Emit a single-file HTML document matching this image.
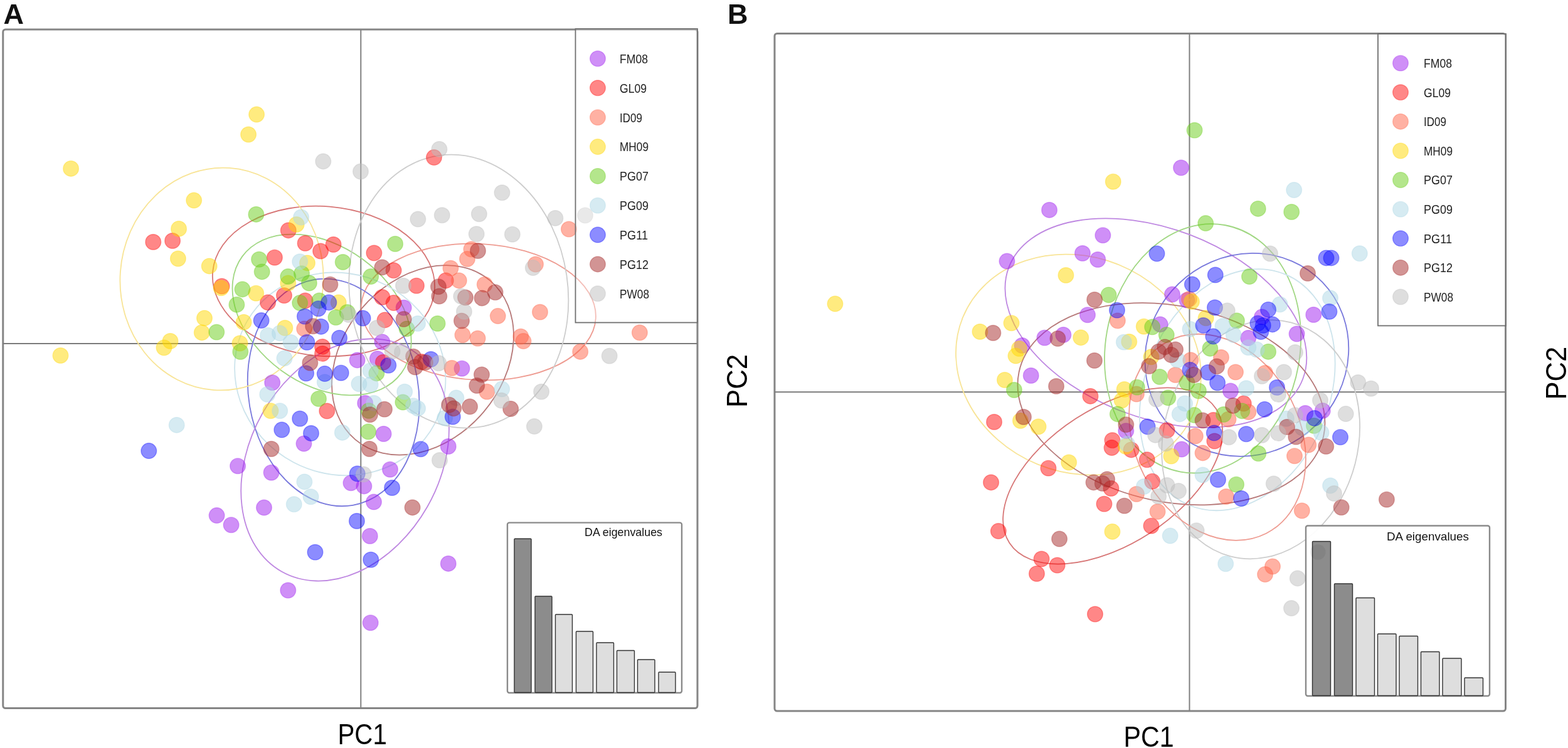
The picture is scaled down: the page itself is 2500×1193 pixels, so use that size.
<!DOCTYPE html>
<html><head><meta charset="utf-8"><style>
html,body{margin:0;padding:0;background:#fff;}
body{width:2500px;height:1193px;overflow:hidden;}
svg{display:block;font-family:"Liberation Sans", Arial, sans-serif;filter:blur(0.5px);}
</style></head><body>
<svg width="2500" height="1193" viewBox="0 0 2500 1193">
<rect width="2500" height="1193" fill="#fff"/>
<text x="5.5" y="38" font-size="45" font-weight="bold" fill="#111">A</text>
<text x="1160" y="37.8" font-size="45" font-weight="bold" fill="#111">B</text>
<rect x="4.8" y="47" width="1107.2" height="1082.5" rx="4" fill="#fff" stroke="#858585" stroke-width="3"/>
<line x1="575.3" y1="47" x2="575.3" y2="1129.5" stroke="#808080" stroke-width="2"/>
<line x1="4.8" y1="548" x2="1112" y2="548" stroke="#7a7a7a" stroke-width="1.9"/>
<ellipse cx="516.0" cy="448.5" rx="177.5" ry="119.3" transform="rotate(-175.2 516.0 448.5)" fill="none" stroke="rgb(215,118,118)" stroke-width="1.8"/>
<ellipse cx="762.9" cy="497.5" rx="187.2" ry="108.6" transform="rotate(-176.9 762.9 497.5)" fill="none" stroke="rgb(238,155,145)" stroke-width="1.8"/>
<ellipse cx="674.0" cy="574.4" rx="127.5" ry="166.2" transform="rotate(-139.7 674.0 574.4)" fill="none" stroke="rgb(182,120,120)" stroke-width="1.8"/>
<ellipse cx="513.1" cy="502.0" rx="109.9" ry="157.3" transform="rotate(126.2 513.1 502.0)" fill="none" stroke="rgb(160,215,130)" stroke-width="1.8"/>
<ellipse cx="542.3" cy="596.4" rx="159.4" ry="170.5" transform="rotate(117.7 542.3 596.4)" fill="none" stroke="rgb(205,228,236)" stroke-width="1.8"/>
<ellipse cx="531.7" cy="625.9" rx="182.5" ry="135.4" transform="rotate(-99.7 531.7 625.9)" fill="none" stroke="rgb(120,120,220)" stroke-width="1.8"/>
<ellipse cx="550.1" cy="733.4" rx="151.1" ry="204.9" transform="rotate(-150.4 550.1 733.4)" fill="none" stroke="rgb(190,135,225)" stroke-width="1.8"/>
<ellipse cx="731.3" cy="464.6" rx="174.0" ry="218.8" transform="rotate(171.7 731.3 464.6)" fill="none" stroke="rgb(205,205,205)" stroke-width="1.8"/>
<ellipse cx="353.5" cy="445.0" rx="177.5" ry="162.0" transform="rotate(-86.0 353.5 445.0)" fill="none" stroke="rgb(248,228,150)" stroke-width="1.8"/>
<circle cx="643.7" cy="490.8" r="12.3" fill="rgba(160,32,240,0.5)" stroke="rgba(160,32,240,0.35)" stroke-width="1.4"/>
<circle cx="609.4" cy="545.4" r="12.3" fill="rgba(160,32,240,0.5)" stroke="rgba(160,32,240,0.35)" stroke-width="1.4"/>
<circle cx="434.2" cy="610.2" r="12.3" fill="rgba(160,32,240,0.5)" stroke="rgba(160,32,240,0.35)" stroke-width="1.4"/>
<circle cx="484.5" cy="707.6" r="12.3" fill="rgba(160,32,240,0.5)" stroke="rgba(160,32,240,0.35)" stroke-width="1.4"/>
<circle cx="379.1" cy="743.2" r="12.3" fill="rgba(160,32,240,0.5)" stroke="rgba(160,32,240,0.35)" stroke-width="1.4"/>
<circle cx="432.6" cy="753.7" r="12.3" fill="rgba(160,32,240,0.5)" stroke="rgba(160,32,240,0.35)" stroke-width="1.4"/>
<circle cx="569.6" cy="574.4" r="12.3" fill="rgba(160,32,240,0.5)" stroke="rgba(160,32,240,0.35)" stroke-width="1.4"/>
<circle cx="601.8" cy="572.3" r="12.3" fill="rgba(160,32,240,0.5)" stroke="rgba(160,32,240,0.35)" stroke-width="1.4"/>
<circle cx="582.2" cy="643.0" r="12.3" fill="rgba(160,32,240,0.5)" stroke="rgba(160,32,240,0.35)" stroke-width="1.4"/>
<circle cx="611.6" cy="692.0" r="12.3" fill="rgba(160,32,240,0.5)" stroke="rgba(160,32,240,0.35)" stroke-width="1.4"/>
<circle cx="736.5" cy="587.7" r="12.3" fill="rgba(160,32,240,0.5)" stroke="rgba(160,32,240,0.35)" stroke-width="1.4"/>
<circle cx="714.8" cy="712.0" r="12.3" fill="rgba(160,32,240,0.5)" stroke="rgba(160,32,240,0.35)" stroke-width="1.4"/>
<circle cx="622.0" cy="748.7" r="12.3" fill="rgba(160,32,240,0.5)" stroke="rgba(160,32,240,0.35)" stroke-width="1.4"/>
<circle cx="596.0" cy="800.6" r="12.3" fill="rgba(160,32,240,0.5)" stroke="rgba(160,32,240,0.35)" stroke-width="1.4"/>
<circle cx="714.8" cy="898.9" r="12.3" fill="rgba(160,32,240,0.5)" stroke="rgba(160,32,240,0.35)" stroke-width="1.4"/>
<circle cx="421.0" cy="809.6" r="12.3" fill="rgba(160,32,240,0.5)" stroke="rgba(160,32,240,0.35)" stroke-width="1.4"/>
<circle cx="345.6" cy="822.1" r="12.3" fill="rgba(160,32,240,0.5)" stroke="rgba(160,32,240,0.35)" stroke-width="1.4"/>
<circle cx="368.6" cy="837.2" r="12.3" fill="rgba(160,32,240,0.5)" stroke="rgba(160,32,240,0.35)" stroke-width="1.4"/>
<circle cx="559.5" cy="770.2" r="12.3" fill="rgba(160,32,240,0.5)" stroke="rgba(160,32,240,0.35)" stroke-width="1.4"/>
<circle cx="580.4" cy="775.4" r="12.3" fill="rgba(160,32,240,0.5)" stroke="rgba(160,32,240,0.35)" stroke-width="1.4"/>
<circle cx="589.8" cy="855.0" r="12.3" fill="rgba(160,32,240,0.5)" stroke="rgba(160,32,240,0.35)" stroke-width="1.4"/>
<circle cx="459.3" cy="941.5" r="12.3" fill="rgba(160,32,240,0.5)" stroke="rgba(160,32,240,0.35)" stroke-width="1.4"/>
<circle cx="590.7" cy="993.2" r="12.3" fill="rgba(160,32,240,0.5)" stroke="rgba(160,32,240,0.35)" stroke-width="1.4"/>
<circle cx="244.3" cy="386.0" r="12.3" fill="rgba(255,0,0,0.47)" stroke="rgba(255,0,0,0.35)" stroke-width="1.4"/>
<circle cx="275.1" cy="384.0" r="12.3" fill="rgba(255,0,0,0.47)" stroke="rgba(255,0,0,0.35)" stroke-width="1.4"/>
<circle cx="353.6" cy="456.5" r="12.3" fill="rgba(255,0,0,0.47)" stroke="rgba(255,0,0,0.35)" stroke-width="1.4"/>
<circle cx="459.8" cy="367.4" r="12.3" fill="rgba(255,0,0,0.47)" stroke="rgba(255,0,0,0.35)" stroke-width="1.4"/>
<circle cx="486.6" cy="388.0" r="12.3" fill="rgba(255,0,0,0.47)" stroke="rgba(255,0,0,0.35)" stroke-width="1.4"/>
<circle cx="531.6" cy="390.0" r="12.3" fill="rgba(255,0,0,0.47)" stroke="rgba(255,0,0,0.35)" stroke-width="1.4"/>
<circle cx="511.1" cy="400.5" r="12.3" fill="rgba(255,0,0,0.47)" stroke="rgba(255,0,0,0.35)" stroke-width="1.4"/>
<circle cx="596.4" cy="403.5" r="12.3" fill="rgba(255,0,0,0.47)" stroke="rgba(255,0,0,0.35)" stroke-width="1.4"/>
<circle cx="692.0" cy="251.1" r="12.3" fill="rgba(255,0,0,0.47)" stroke="rgba(255,0,0,0.35)" stroke-width="1.4"/>
<circle cx="437.9" cy="410.7" r="12.3" fill="rgba(255,0,0,0.47)" stroke="rgba(255,0,0,0.35)" stroke-width="1.4"/>
<circle cx="427.1" cy="482.4" r="12.3" fill="rgba(255,0,0,0.47)" stroke="rgba(255,0,0,0.35)" stroke-width="1.4"/>
<circle cx="453.0" cy="471.2" r="12.3" fill="rgba(255,0,0,0.47)" stroke="rgba(255,0,0,0.35)" stroke-width="1.4"/>
<circle cx="486.6" cy="479.6" r="12.3" fill="rgba(255,0,0,0.47)" stroke="rgba(255,0,0,0.35)" stroke-width="1.4"/>
<circle cx="514.0" cy="553.0" r="12.3" fill="rgba(255,0,0,0.47)" stroke="rgba(255,0,0,0.35)" stroke-width="1.4"/>
<circle cx="514.0" cy="564.0" r="12.3" fill="rgba(255,0,0,0.47)" stroke="rgba(255,0,0,0.35)" stroke-width="1.4"/>
<circle cx="627.6" cy="431.3" r="12.3" fill="rgba(255,0,0,0.47)" stroke="rgba(255,0,0,0.35)" stroke-width="1.4"/>
<circle cx="664.0" cy="455.8" r="12.3" fill="rgba(255,0,0,0.47)" stroke="rgba(255,0,0,0.35)" stroke-width="1.4"/>
<circle cx="609.4" cy="474.0" r="12.3" fill="rgba(255,0,0,0.47)" stroke="rgba(255,0,0,0.35)" stroke-width="1.4"/>
<circle cx="627.6" cy="483.1" r="12.3" fill="rgba(255,0,0,0.47)" stroke="rgba(255,0,0,0.35)" stroke-width="1.4"/>
<circle cx="613.6" cy="510.4" r="12.3" fill="rgba(255,0,0,0.47)" stroke="rgba(255,0,0,0.35)" stroke-width="1.4"/>
<circle cx="710.8" cy="447.4" r="12.3" fill="rgba(255,0,0,0.47)" stroke="rgba(255,0,0,0.35)" stroke-width="1.4"/>
<circle cx="610.9" cy="577.9" r="12.3" fill="rgba(255,0,0,0.47)" stroke="rgba(255,0,0,0.35)" stroke-width="1.4"/>
<circle cx="672.0" cy="577.0" r="12.3" fill="rgba(255,0,0,0.47)" stroke="rgba(255,0,0,0.35)" stroke-width="1.4"/>
<circle cx="521.3" cy="655.6" r="12.3" fill="rgba(255,0,0,0.47)" stroke="rgba(255,0,0,0.35)" stroke-width="1.4"/>
<circle cx="907.0" cy="365.5" r="12.3" fill="rgba(255,99,71,0.5)" stroke="rgba(255,99,71,0.35)" stroke-width="1.4"/>
<circle cx="485.2" cy="524.4" r="12.3" fill="rgba(255,99,71,0.5)" stroke="rgba(255,99,71,0.35)" stroke-width="1.4"/>
<circle cx="718.5" cy="427.8" r="12.3" fill="rgba(255,99,71,0.5)" stroke="rgba(255,99,71,0.35)" stroke-width="1.4"/>
<circle cx="731.8" cy="447.4" r="12.3" fill="rgba(255,99,71,0.5)" stroke="rgba(255,99,71,0.35)" stroke-width="1.4"/>
<circle cx="745.0" cy="413.0" r="12.3" fill="rgba(255,99,71,0.5)" stroke="rgba(255,99,71,0.35)" stroke-width="1.4"/>
<circle cx="737.5" cy="534.2" r="12.3" fill="rgba(255,99,71,0.5)" stroke="rgba(255,99,71,0.35)" stroke-width="1.4"/>
<circle cx="751.5" cy="397.5" r="12.3" fill="rgba(255,99,71,0.5)" stroke="rgba(255,99,71,0.35)" stroke-width="1.4"/>
<circle cx="854.0" cy="421.5" r="12.3" fill="rgba(255,99,71,0.5)" stroke="rgba(255,99,71,0.35)" stroke-width="1.4"/>
<circle cx="772.8" cy="453.7" r="12.3" fill="rgba(255,99,71,0.5)" stroke="rgba(255,99,71,0.35)" stroke-width="1.4"/>
<circle cx="793.8" cy="504.1" r="12.3" fill="rgba(255,99,71,0.5)" stroke="rgba(255,99,71,0.35)" stroke-width="1.4"/>
<circle cx="861.0" cy="497.8" r="12.3" fill="rgba(255,99,71,0.5)" stroke="rgba(255,99,71,0.35)" stroke-width="1.4"/>
<circle cx="761.6" cy="539.8" r="12.3" fill="rgba(255,99,71,0.5)" stroke="rgba(255,99,71,0.35)" stroke-width="1.4"/>
<circle cx="830.3" cy="536.8" r="12.3" fill="rgba(255,99,71,0.5)" stroke="rgba(255,99,71,0.35)" stroke-width="1.4"/>
<circle cx="834.5" cy="544.1" r="12.3" fill="rgba(255,99,71,0.5)" stroke="rgba(255,99,71,0.35)" stroke-width="1.4"/>
<circle cx="925.2" cy="560.9" r="12.3" fill="rgba(255,99,71,0.5)" stroke="rgba(255,99,71,0.35)" stroke-width="1.4"/>
<circle cx="1019.9" cy="530.5" r="12.3" fill="rgba(255,99,71,0.5)" stroke="rgba(255,99,71,0.35)" stroke-width="1.4"/>
<circle cx="720.4" cy="587.0" r="12.3" fill="rgba(255,99,71,0.5)" stroke="rgba(255,99,71,0.35)" stroke-width="1.4"/>
<circle cx="776.4" cy="624.8" r="12.3" fill="rgba(255,99,71,0.5)" stroke="rgba(255,99,71,0.35)" stroke-width="1.4"/>
<circle cx="113.1" cy="268.9" r="12.3" fill="rgba(255,215,0,0.5)" stroke="rgba(255,215,0,0.35)" stroke-width="1.4"/>
<circle cx="309.2" cy="319.6" r="12.3" fill="rgba(255,215,0,0.5)" stroke="rgba(255,215,0,0.35)" stroke-width="1.4"/>
<circle cx="285.1" cy="364.9" r="12.3" fill="rgba(255,215,0,0.5)" stroke="rgba(255,215,0,0.35)" stroke-width="1.4"/>
<circle cx="283.9" cy="412.5" r="12.3" fill="rgba(255,215,0,0.5)" stroke="rgba(255,215,0,0.35)" stroke-width="1.4"/>
<circle cx="333.7" cy="424.4" r="12.3" fill="rgba(255,215,0,0.5)" stroke="rgba(255,215,0,0.35)" stroke-width="1.4"/>
<circle cx="352.6" cy="459.2" r="12.3" fill="rgba(255,215,0,0.5)" stroke="rgba(255,215,0,0.35)" stroke-width="1.4"/>
<circle cx="326.0" cy="507.4" r="12.3" fill="rgba(255,215,0,0.5)" stroke="rgba(255,215,0,0.35)" stroke-width="1.4"/>
<circle cx="321.8" cy="530.4" r="12.3" fill="rgba(255,215,0,0.5)" stroke="rgba(255,215,0,0.35)" stroke-width="1.4"/>
<circle cx="271.5" cy="544.0" r="12.3" fill="rgba(255,215,0,0.5)" stroke="rgba(255,215,0,0.35)" stroke-width="1.4"/>
<circle cx="261.5" cy="554.5" r="12.3" fill="rgba(255,215,0,0.5)" stroke="rgba(255,215,0,0.35)" stroke-width="1.4"/>
<circle cx="96.5" cy="567.0" r="12.3" fill="rgba(255,215,0,0.5)" stroke="rgba(255,215,0,0.35)" stroke-width="1.4"/>
<circle cx="409.1" cy="182.6" r="12.3" fill="rgba(255,215,0,0.5)" stroke="rgba(255,215,0,0.35)" stroke-width="1.4"/>
<circle cx="396.1" cy="214.5" r="12.3" fill="rgba(255,215,0,0.5)" stroke="rgba(255,215,0,0.35)" stroke-width="1.4"/>
<circle cx="472.7" cy="358.0" r="12.3" fill="rgba(255,215,0,0.5)" stroke="rgba(255,215,0,0.35)" stroke-width="1.4"/>
<circle cx="408.2" cy="467.7" r="12.3" fill="rgba(255,215,0,0.5)" stroke="rgba(255,215,0,0.35)" stroke-width="1.4"/>
<circle cx="459.3" cy="451.6" r="12.3" fill="rgba(255,215,0,0.5)" stroke="rgba(255,215,0,0.35)" stroke-width="1.4"/>
<circle cx="490.0" cy="419.4" r="12.3" fill="rgba(255,215,0,0.5)" stroke="rgba(255,215,0,0.35)" stroke-width="1.4"/>
<circle cx="539.7" cy="482.4" r="12.3" fill="rgba(255,215,0,0.5)" stroke="rgba(255,215,0,0.35)" stroke-width="1.4"/>
<circle cx="388.6" cy="513.9" r="12.3" fill="rgba(255,215,0,0.5)" stroke="rgba(255,215,0,0.35)" stroke-width="1.4"/>
<circle cx="454.4" cy="523.0" r="12.3" fill="rgba(255,215,0,0.5)" stroke="rgba(255,215,0,0.35)" stroke-width="1.4"/>
<circle cx="382.5" cy="547.5" r="12.3" fill="rgba(255,215,0,0.5)" stroke="rgba(255,215,0,0.35)" stroke-width="1.4"/>
<circle cx="431.5" cy="655.2" r="12.3" fill="rgba(255,215,0,0.5)" stroke="rgba(255,215,0,0.35)" stroke-width="1.4"/>
<circle cx="345.3" cy="529.8" r="12.3" fill="rgba(105,205,25,0.5)" stroke="rgba(105,205,25,0.35)" stroke-width="1.4"/>
<circle cx="408.4" cy="341.9" r="12.3" fill="rgba(105,205,25,0.5)" stroke="rgba(105,205,25,0.35)" stroke-width="1.4"/>
<circle cx="630.1" cy="389.0" r="12.3" fill="rgba(105,205,25,0.5)" stroke="rgba(105,205,25,0.35)" stroke-width="1.4"/>
<circle cx="413.1" cy="413.8" r="12.3" fill="rgba(105,205,25,0.5)" stroke="rgba(105,205,25,0.35)" stroke-width="1.4"/>
<circle cx="417.7" cy="433.4" r="12.3" fill="rgba(105,205,25,0.5)" stroke="rgba(105,205,25,0.35)" stroke-width="1.4"/>
<circle cx="386.5" cy="461.4" r="12.3" fill="rgba(105,205,25,0.5)" stroke="rgba(105,205,25,0.35)" stroke-width="1.4"/>
<circle cx="377.4" cy="485.9" r="12.3" fill="rgba(105,205,25,0.5)" stroke="rgba(105,205,25,0.35)" stroke-width="1.4"/>
<circle cx="459.3" cy="441.1" r="12.3" fill="rgba(105,205,25,0.5)" stroke="rgba(105,205,25,0.35)" stroke-width="1.4"/>
<circle cx="481.0" cy="436.2" r="12.3" fill="rgba(105,205,25,0.5)" stroke="rgba(105,205,25,0.35)" stroke-width="1.4"/>
<circle cx="492.9" cy="451.6" r="12.3" fill="rgba(105,205,25,0.5)" stroke="rgba(105,205,25,0.35)" stroke-width="1.4"/>
<circle cx="546.7" cy="418.0" r="12.3" fill="rgba(105,205,25,0.5)" stroke="rgba(105,205,25,0.35)" stroke-width="1.4"/>
<circle cx="478.2" cy="483.1" r="12.3" fill="rgba(105,205,25,0.5)" stroke="rgba(105,205,25,0.35)" stroke-width="1.4"/>
<circle cx="509.0" cy="479.6" r="12.3" fill="rgba(105,205,25,0.5)" stroke="rgba(105,205,25,0.35)" stroke-width="1.4"/>
<circle cx="535.5" cy="506.2" r="12.3" fill="rgba(105,205,25,0.5)" stroke="rgba(105,205,25,0.35)" stroke-width="1.4"/>
<circle cx="553.7" cy="498.0" r="12.3" fill="rgba(105,205,25,0.5)" stroke="rgba(105,205,25,0.35)" stroke-width="1.4"/>
<circle cx="383.3" cy="561.0" r="12.3" fill="rgba(105,205,25,0.5)" stroke="rgba(105,205,25,0.35)" stroke-width="1.4"/>
<circle cx="591.2" cy="441.1" r="12.3" fill="rgba(105,205,25,0.5)" stroke="rgba(105,205,25,0.35)" stroke-width="1.4"/>
<circle cx="648.6" cy="524.4" r="12.3" fill="rgba(105,205,25,0.5)" stroke="rgba(105,205,25,0.35)" stroke-width="1.4"/>
<circle cx="697.6" cy="516.0" r="12.3" fill="rgba(105,205,25,0.5)" stroke="rgba(105,205,25,0.35)" stroke-width="1.4"/>
<circle cx="600.4" cy="595.4" r="12.3" fill="rgba(105,205,25,0.5)" stroke="rgba(105,205,25,0.35)" stroke-width="1.4"/>
<circle cx="508.0" cy="636.0" r="12.3" fill="rgba(105,205,25,0.5)" stroke="rgba(105,205,25,0.35)" stroke-width="1.4"/>
<circle cx="588.0" cy="655.0" r="12.3" fill="rgba(105,205,25,0.5)" stroke="rgba(105,205,25,0.35)" stroke-width="1.4"/>
<circle cx="587.1" cy="688.5" r="12.3" fill="rgba(105,205,25,0.5)" stroke="rgba(105,205,25,0.35)" stroke-width="1.4"/>
<circle cx="642.4" cy="641.6" r="12.3" fill="rgba(105,205,25,0.5)" stroke="rgba(105,205,25,0.35)" stroke-width="1.4"/>
<circle cx="480.1" cy="346.5" r="12.3" fill="rgba(173,216,230,0.5)" stroke="rgba(173,216,230,0.35)" stroke-width="1.4"/>
<circle cx="478.2" cy="417.3" r="12.3" fill="rgba(173,216,230,0.5)" stroke="rgba(173,216,230,0.35)" stroke-width="1.4"/>
<circle cx="427.1" cy="534.9" r="12.3" fill="rgba(173,216,230,0.5)" stroke="rgba(173,216,230,0.35)" stroke-width="1.4"/>
<circle cx="446.0" cy="531.4" r="12.3" fill="rgba(173,216,230,0.5)" stroke="rgba(173,216,230,0.35)" stroke-width="1.4"/>
<circle cx="463.5" cy="546.0" r="12.3" fill="rgba(173,216,230,0.5)" stroke="rgba(173,216,230,0.35)" stroke-width="1.4"/>
<circle cx="666.1" cy="516.0" r="12.3" fill="rgba(173,216,230,0.5)" stroke="rgba(173,216,230,0.35)" stroke-width="1.4"/>
<circle cx="453.5" cy="571.4" r="12.3" fill="rgba(173,216,230,0.5)" stroke="rgba(173,216,230,0.35)" stroke-width="1.4"/>
<circle cx="426.3" cy="629.0" r="12.3" fill="rgba(173,216,230,0.5)" stroke="rgba(173,216,230,0.35)" stroke-width="1.4"/>
<circle cx="446.2" cy="655.2" r="12.3" fill="rgba(173,216,230,0.5)" stroke="rgba(173,216,230,0.35)" stroke-width="1.4"/>
<circle cx="485.4" cy="768.4" r="12.3" fill="rgba(173,216,230,0.5)" stroke="rgba(173,216,230,0.35)" stroke-width="1.4"/>
<circle cx="281.7" cy="677.9" r="12.3" fill="rgba(173,216,230,0.5)" stroke="rgba(173,216,230,0.35)" stroke-width="1.4"/>
<circle cx="517.8" cy="609.4" r="12.3" fill="rgba(173,216,230,0.5)" stroke="rgba(173,216,230,0.35)" stroke-width="1.4"/>
<circle cx="590.6" cy="591.2" r="12.3" fill="rgba(173,216,230,0.5)" stroke="rgba(173,216,230,0.35)" stroke-width="1.4"/>
<circle cx="572.4" cy="612.2" r="12.3" fill="rgba(173,216,230,0.5)" stroke="rgba(173,216,230,0.35)" stroke-width="1.4"/>
<circle cx="590.6" cy="613.6" r="12.3" fill="rgba(173,216,230,0.5)" stroke="rgba(173,216,230,0.35)" stroke-width="1.4"/>
<circle cx="545.8" cy="689.9" r="12.3" fill="rgba(173,216,230,0.5)" stroke="rgba(173,216,230,0.35)" stroke-width="1.4"/>
<circle cx="596.2" cy="643.0" r="12.3" fill="rgba(173,216,230,0.5)" stroke="rgba(173,216,230,0.35)" stroke-width="1.4"/>
<circle cx="645.2" cy="624.8" r="12.3" fill="rgba(173,216,230,0.5)" stroke="rgba(173,216,230,0.35)" stroke-width="1.4"/>
<circle cx="659.1" cy="647.2" r="12.3" fill="rgba(173,216,230,0.5)" stroke="rgba(173,216,230,0.35)" stroke-width="1.4"/>
<circle cx="666.1" cy="651.4" r="12.3" fill="rgba(173,216,230,0.5)" stroke="rgba(173,216,230,0.35)" stroke-width="1.4"/>
<circle cx="800.2" cy="620.6" r="12.3" fill="rgba(173,216,230,0.5)" stroke="rgba(173,216,230,0.35)" stroke-width="1.4"/>
<circle cx="727.4" cy="634.6" r="12.3" fill="rgba(173,216,230,0.5)" stroke="rgba(173,216,230,0.35)" stroke-width="1.4"/>
<circle cx="709.2" cy="666.8" r="12.3" fill="rgba(173,216,230,0.5)" stroke="rgba(173,216,230,0.35)" stroke-width="1.4"/>
<circle cx="495.6" cy="792.2" r="12.3" fill="rgba(173,216,230,0.5)" stroke="rgba(173,216,230,0.35)" stroke-width="1.4"/>
<circle cx="468.8" cy="804.3" r="12.3" fill="rgba(173,216,230,0.5)" stroke="rgba(173,216,230,0.35)" stroke-width="1.4"/>
<circle cx="524.3" cy="482.4" r="12.3" fill="rgba(0,0,255,0.45)" stroke="rgba(0,0,255,0.35)" stroke-width="1.4"/>
<circle cx="507.6" cy="492.2" r="12.3" fill="rgba(0,0,255,0.45)" stroke="rgba(0,0,255,0.35)" stroke-width="1.4"/>
<circle cx="485.9" cy="504.8" r="12.3" fill="rgba(0,0,255,0.45)" stroke="rgba(0,0,255,0.35)" stroke-width="1.4"/>
<circle cx="511.8" cy="520.9" r="12.3" fill="rgba(0,0,255,0.45)" stroke="rgba(0,0,255,0.35)" stroke-width="1.4"/>
<circle cx="416.6" cy="511.1" r="12.3" fill="rgba(0,0,255,0.45)" stroke="rgba(0,0,255,0.35)" stroke-width="1.4"/>
<circle cx="489.4" cy="546.0" r="12.3" fill="rgba(0,0,255,0.45)" stroke="rgba(0,0,255,0.35)" stroke-width="1.4"/>
<circle cx="541.1" cy="539.0" r="12.3" fill="rgba(0,0,255,0.45)" stroke="rgba(0,0,255,0.35)" stroke-width="1.4"/>
<circle cx="578.6" cy="507.6" r="12.3" fill="rgba(0,0,255,0.45)" stroke="rgba(0,0,255,0.35)" stroke-width="1.4"/>
<circle cx="488.1" cy="595.5" r="12.3" fill="rgba(0,0,255,0.45)" stroke="rgba(0,0,255,0.35)" stroke-width="1.4"/>
<circle cx="478.2" cy="667.8" r="12.3" fill="rgba(0,0,255,0.45)" stroke="rgba(0,0,255,0.35)" stroke-width="1.4"/>
<circle cx="449.3" cy="685.6" r="12.3" fill="rgba(0,0,255,0.45)" stroke="rgba(0,0,255,0.35)" stroke-width="1.4"/>
<circle cx="496.0" cy="691.0" r="12.3" fill="rgba(0,0,255,0.45)" stroke="rgba(0,0,255,0.35)" stroke-width="1.4"/>
<circle cx="237.3" cy="719.1" r="12.3" fill="rgba(0,0,255,0.45)" stroke="rgba(0,0,255,0.35)" stroke-width="1.4"/>
<circle cx="517.8" cy="596.1" r="12.3" fill="rgba(0,0,255,0.45)" stroke="rgba(0,0,255,0.35)" stroke-width="1.4"/>
<circle cx="543.7" cy="594.7" r="12.3" fill="rgba(0,0,255,0.45)" stroke="rgba(0,0,255,0.35)" stroke-width="1.4"/>
<circle cx="619.3" cy="582.8" r="12.3" fill="rgba(0,0,255,0.45)" stroke="rgba(0,0,255,0.35)" stroke-width="1.4"/>
<circle cx="687.0" cy="573.0" r="12.3" fill="rgba(0,0,255,0.45)" stroke="rgba(0,0,255,0.35)" stroke-width="1.4"/>
<circle cx="721.8" cy="664.7" r="12.3" fill="rgba(0,0,255,0.45)" stroke="rgba(0,0,255,0.35)" stroke-width="1.4"/>
<circle cx="670.8" cy="716.2" r="12.3" fill="rgba(0,0,255,0.45)" stroke="rgba(0,0,255,0.35)" stroke-width="1.4"/>
<circle cx="625.1" cy="778.0" r="12.3" fill="rgba(0,0,255,0.45)" stroke="rgba(0,0,255,0.35)" stroke-width="1.4"/>
<circle cx="569.7" cy="755.5" r="12.3" fill="rgba(0,0,255,0.45)" stroke="rgba(0,0,255,0.35)" stroke-width="1.4"/>
<circle cx="568.9" cy="831.0" r="12.3" fill="rgba(0,0,255,0.45)" stroke="rgba(0,0,255,0.35)" stroke-width="1.4"/>
<circle cx="591.3" cy="892.8" r="12.3" fill="rgba(0,0,255,0.45)" stroke="rgba(0,0,255,0.35)" stroke-width="1.4"/>
<circle cx="502.5" cy="880.8" r="12.3" fill="rgba(0,0,255,0.45)" stroke="rgba(0,0,255,0.35)" stroke-width="1.4"/>
<circle cx="526.4" cy="453.7" r="12.3" fill="rgba(165,42,42,0.5)" stroke="rgba(165,42,42,0.35)" stroke-width="1.4"/>
<circle cx="499.2" cy="520.2" r="12.3" fill="rgba(165,42,42,0.5)" stroke="rgba(165,42,42,0.35)" stroke-width="1.4"/>
<circle cx="609.4" cy="426.4" r="12.3" fill="rgba(165,42,42,0.5)" stroke="rgba(165,42,42,0.35)" stroke-width="1.4"/>
<circle cx="643.7" cy="509.0" r="12.3" fill="rgba(165,42,42,0.5)" stroke="rgba(165,42,42,0.35)" stroke-width="1.4"/>
<circle cx="699.0" cy="457.2" r="12.3" fill="rgba(165,42,42,0.5)" stroke="rgba(165,42,42,0.35)" stroke-width="1.4"/>
<circle cx="700.3" cy="472.6" r="12.3" fill="rgba(165,42,42,0.5)" stroke="rgba(165,42,42,0.35)" stroke-width="1.4"/>
<circle cx="742.0" cy="474.5" r="12.3" fill="rgba(165,42,42,0.5)" stroke="rgba(165,42,42,0.35)" stroke-width="1.4"/>
<circle cx="736.0" cy="511.8" r="12.3" fill="rgba(165,42,42,0.5)" stroke="rgba(165,42,42,0.35)" stroke-width="1.4"/>
<circle cx="762.0" cy="400.0" r="12.3" fill="rgba(165,42,42,0.5)" stroke="rgba(165,42,42,0.35)" stroke-width="1.4"/>
<circle cx="789.6" cy="466.3" r="12.3" fill="rgba(165,42,42,0.5)" stroke="rgba(165,42,42,0.35)" stroke-width="1.4"/>
<circle cx="768.6" cy="475.4" r="12.3" fill="rgba(165,42,42,0.5)" stroke="rgba(165,42,42,0.35)" stroke-width="1.4"/>
<circle cx="494.4" cy="578.8" r="12.3" fill="rgba(165,42,42,0.5)" stroke="rgba(165,42,42,0.35)" stroke-width="1.4"/>
<circle cx="432.6" cy="716.0" r="12.3" fill="rgba(165,42,42,0.5)" stroke="rgba(165,42,42,0.35)" stroke-width="1.4"/>
<circle cx="659.1" cy="568.8" r="12.3" fill="rgba(165,42,42,0.5)" stroke="rgba(165,42,42,0.35)" stroke-width="1.4"/>
<circle cx="662.0" cy="585.6" r="12.3" fill="rgba(165,42,42,0.5)" stroke="rgba(165,42,42,0.35)" stroke-width="1.4"/>
<circle cx="678.0" cy="578.0" r="12.3" fill="rgba(165,42,42,0.5)" stroke="rgba(165,42,42,0.35)" stroke-width="1.4"/>
<circle cx="589.9" cy="661.2" r="12.3" fill="rgba(165,42,42,0.5)" stroke="rgba(165,42,42,0.35)" stroke-width="1.4"/>
<circle cx="613.0" cy="652.8" r="12.3" fill="rgba(165,42,42,0.5)" stroke="rgba(165,42,42,0.35)" stroke-width="1.4"/>
<circle cx="589.0" cy="716.0" r="12.3" fill="rgba(165,42,42,0.5)" stroke="rgba(165,42,42,0.35)" stroke-width="1.4"/>
<circle cx="768.0" cy="597.5" r="12.3" fill="rgba(165,42,42,0.5)" stroke="rgba(165,42,42,0.35)" stroke-width="1.4"/>
<circle cx="760.3" cy="615.0" r="12.3" fill="rgba(165,42,42,0.5)" stroke="rgba(165,42,42,0.35)" stroke-width="1.4"/>
<circle cx="814.2" cy="652.1" r="12.3" fill="rgba(165,42,42,0.5)" stroke="rgba(165,42,42,0.35)" stroke-width="1.4"/>
<circle cx="716.2" cy="645.8" r="12.3" fill="rgba(165,42,42,0.5)" stroke="rgba(165,42,42,0.35)" stroke-width="1.4"/>
<circle cx="723.2" cy="651.4" r="12.3" fill="rgba(165,42,42,0.5)" stroke="rgba(165,42,42,0.35)" stroke-width="1.4"/>
<circle cx="749.1" cy="648.6" r="12.3" fill="rgba(165,42,42,0.5)" stroke="rgba(165,42,42,0.35)" stroke-width="1.4"/>
<circle cx="657.6" cy="809.4" r="12.3" fill="rgba(165,42,42,0.5)" stroke="rgba(165,42,42,0.35)" stroke-width="1.4"/>
<circle cx="515.3" cy="257.4" r="12.3" fill="rgba(190,190,190,0.5)" stroke="rgba(190,190,190,0.35)" stroke-width="1.4"/>
<circle cx="575.0" cy="273.6" r="12.3" fill="rgba(190,190,190,0.5)" stroke="rgba(190,190,190,0.35)" stroke-width="1.4"/>
<circle cx="700.4" cy="237.9" r="12.3" fill="rgba(190,190,190,0.5)" stroke="rgba(190,190,190,0.35)" stroke-width="1.4"/>
<circle cx="800.5" cy="307.3" r="12.3" fill="rgba(190,190,190,0.5)" stroke="rgba(190,190,190,0.35)" stroke-width="1.4"/>
<circle cx="666.4" cy="349.6" r="12.3" fill="rgba(190,190,190,0.5)" stroke="rgba(190,190,190,0.35)" stroke-width="1.4"/>
<circle cx="704.8" cy="343.3" r="12.3" fill="rgba(190,190,190,0.5)" stroke="rgba(190,190,190,0.35)" stroke-width="1.4"/>
<circle cx="763.9" cy="341.2" r="12.3" fill="rgba(190,190,190,0.5)" stroke="rgba(190,190,190,0.35)" stroke-width="1.4"/>
<circle cx="885.4" cy="347.9" r="12.3" fill="rgba(190,190,190,0.5)" stroke="rgba(190,190,190,0.35)" stroke-width="1.4"/>
<circle cx="933.0" cy="343.5" r="12.3" fill="rgba(190,190,190,0.5)" stroke="rgba(190,190,190,0.35)" stroke-width="1.4"/>
<circle cx="759.7" cy="373.3" r="12.3" fill="rgba(190,190,190,0.5)" stroke="rgba(190,190,190,0.35)" stroke-width="1.4"/>
<circle cx="816.9" cy="373.7" r="12.3" fill="rgba(190,190,190,0.5)" stroke="rgba(190,190,190,0.35)" stroke-width="1.4"/>
<circle cx="643.0" cy="455.8" r="12.3" fill="rgba(190,190,190,0.5)" stroke="rgba(190,190,190,0.35)" stroke-width="1.4"/>
<circle cx="601.0" cy="523.0" r="12.3" fill="rgba(190,190,190,0.5)" stroke="rgba(190,190,190,0.35)" stroke-width="1.4"/>
<circle cx="556.2" cy="502.0" r="12.3" fill="rgba(190,190,190,0.5)" stroke="rgba(190,190,190,0.35)" stroke-width="1.4"/>
<circle cx="735.3" cy="472.6" r="12.3" fill="rgba(190,190,190,0.5)" stroke="rgba(190,190,190,0.35)" stroke-width="1.4"/>
<circle cx="740.0" cy="497.0" r="12.3" fill="rgba(190,190,190,0.5)" stroke="rgba(190,190,190,0.35)" stroke-width="1.4"/>
<circle cx="849.8" cy="427.1" r="12.3" fill="rgba(190,190,190,0.5)" stroke="rgba(190,190,190,0.35)" stroke-width="1.4"/>
<circle cx="971.7" cy="567.8" r="12.3" fill="rgba(190,190,190,0.5)" stroke="rgba(190,190,190,0.35)" stroke-width="1.4"/>
<circle cx="625.6" cy="560.4" r="12.3" fill="rgba(190,190,190,0.5)" stroke="rgba(190,190,190,0.35)" stroke-width="1.4"/>
<circle cx="641.0" cy="561.8" r="12.3" fill="rgba(190,190,190,0.5)" stroke="rgba(190,190,190,0.35)" stroke-width="1.4"/>
<circle cx="699.4" cy="579.3" r="12.3" fill="rgba(190,190,190,0.5)" stroke="rgba(190,190,190,0.35)" stroke-width="1.4"/>
<circle cx="799.5" cy="638.8" r="12.3" fill="rgba(190,190,190,0.5)" stroke="rgba(190,190,190,0.35)" stroke-width="1.4"/>
<circle cx="863.1" cy="624.8" r="12.3" fill="rgba(190,190,190,0.5)" stroke="rgba(190,190,190,0.35)" stroke-width="1.4"/>
<circle cx="851.9" cy="680.1" r="12.3" fill="rgba(190,190,190,0.5)" stroke="rgba(190,190,190,0.35)" stroke-width="1.4"/>
<circle cx="701.0" cy="734.0" r="12.3" fill="rgba(190,190,190,0.5)" stroke="rgba(190,190,190,0.35)" stroke-width="1.4"/>
<circle cx="579.8" cy="756.6" r="12.3" fill="rgba(190,190,190,0.5)" stroke="rgba(190,190,190,0.35)" stroke-width="1.4"/>
<rect x="917.5" y="46" width="194.5" height="468.5" fill="#fff" fill-opacity="0.35" stroke="#6f6f6f" stroke-width="1.8"/>
<circle cx="953" cy="93.5" r="12.3" fill="rgba(160,32,240,0.5)" stroke="rgba(160,32,240,0.35)" stroke-width="1.4"/>
<text x="988" y="100.8" font-size="20" fill="#222" textLength="45" lengthAdjust="spacingAndGlyphs">FM08</text>
<circle cx="953" cy="140.3" r="12.3" fill="rgba(255,0,0,0.47)" stroke="rgba(255,0,0,0.35)" stroke-width="1.4"/>
<text x="988" y="147.7" font-size="20" fill="#222" textLength="43" lengthAdjust="spacingAndGlyphs">GL09</text>
<circle cx="953" cy="187.2" r="12.3" fill="rgba(255,99,71,0.5)" stroke="rgba(255,99,71,0.35)" stroke-width="1.4"/>
<text x="988" y="194.5" font-size="20" fill="#222" textLength="36" lengthAdjust="spacingAndGlyphs">ID09</text>
<circle cx="953" cy="234.1" r="12.3" fill="rgba(255,215,0,0.5)" stroke="rgba(255,215,0,0.35)" stroke-width="1.4"/>
<text x="988" y="241.4" font-size="20" fill="#222" textLength="46" lengthAdjust="spacingAndGlyphs">MH09</text>
<circle cx="953" cy="280.9" r="12.3" fill="rgba(105,205,25,0.5)" stroke="rgba(105,205,25,0.35)" stroke-width="1.4"/>
<text x="988" y="288.2" font-size="20" fill="#222" textLength="46" lengthAdjust="spacingAndGlyphs">PG07</text>
<circle cx="953" cy="327.8" r="12.3" fill="rgba(173,216,230,0.5)" stroke="rgba(173,216,230,0.35)" stroke-width="1.4"/>
<text x="988" y="335.1" font-size="20" fill="#222" textLength="46" lengthAdjust="spacingAndGlyphs">PG09</text>
<circle cx="953" cy="374.6" r="12.3" fill="rgba(0,0,255,0.45)" stroke="rgba(0,0,255,0.35)" stroke-width="1.4"/>
<text x="988" y="381.9" font-size="20" fill="#222" textLength="45" lengthAdjust="spacingAndGlyphs">PG11</text>
<circle cx="953" cy="421.4" r="12.3" fill="rgba(165,42,42,0.5)" stroke="rgba(165,42,42,0.35)" stroke-width="1.4"/>
<text x="988" y="428.8" font-size="20" fill="#222" textLength="46" lengthAdjust="spacingAndGlyphs">PG12</text>
<circle cx="953" cy="468.3" r="12.3" fill="rgba(190,190,190,0.5)" stroke="rgba(190,190,190,0.35)" stroke-width="1.4"/>
<text x="988" y="475.6" font-size="20" fill="#222" textLength="47" lengthAdjust="spacingAndGlyphs">PW08</text>
<rect x="809" y="833.6" width="278" height="271.4" fill="#fff" fill-opacity="0.93" stroke="#8a8a8a" stroke-width="2.4" rx="3"/>
<rect x="820" y="859.2" width="27" height="245.29999999999995" fill="#8c8c8c" stroke="#333" stroke-width="1.4" rx="1"/>
<rect x="853" y="951" width="27" height="153.5" fill="#8c8c8c" stroke="#333" stroke-width="1.4" rx="1"/>
<rect x="885.5" y="980" width="27.0" height="124.5" fill="#dedede" stroke="#333" stroke-width="1.4" rx="1"/>
<rect x="918.5" y="1007" width="27.0" height="97.5" fill="#dedede" stroke="#333" stroke-width="1.4" rx="1"/>
<rect x="951" y="1025" width="27.5" height="79.5" fill="#dedede" stroke="#333" stroke-width="1.4" rx="1"/>
<rect x="983.5" y="1037.5" width="28.0" height="67.0" fill="#dedede" stroke="#333" stroke-width="1.4" rx="1"/>
<rect x="1016.5" y="1052" width="27.5" height="52.5" fill="#dedede" stroke="#333" stroke-width="1.4" rx="1"/>
<rect x="1050" y="1072" width="27" height="32.5" fill="#dedede" stroke="#333" stroke-width="1.4" rx="1"/>
<text x="932" y="854.8" font-size="18.5" fill="#111" textLength="124" lengthAdjust="spacingAndGlyphs">DA eigenvalues</text>
<rect x="1235" y="53.5" width="1165.5" height="1080.5" rx="4" fill="#fff" stroke="#858585" stroke-width="3"/>
<line x1="1896.5" y1="53.5" x2="1896.5" y2="1134" stroke="#808080" stroke-width="2"/>
<line x1="1235" y1="625.3" x2="2400.5" y2="625.3" stroke="#7a7a7a" stroke-width="1.9"/>
<ellipse cx="1719.5" cy="581.6" rx="199.2" ry="171.8" transform="rotate(-157.6 1719.5 581.6)" fill="none" stroke="rgb(248,228,150)" stroke-width="1.8"/>
<ellipse cx="1842.9" cy="515.2" rx="150.9" ry="250.7" transform="rotate(110.8 1842.9 515.2)" fill="none" stroke="rgb(190,135,225)" stroke-width="1.8"/>
<ellipse cx="1917.6" cy="555.8" rx="199.9" ry="155.0" transform="rotate(-79.9 1917.6 555.8)" fill="none" stroke="rgb(160,215,130)" stroke-width="1.8"/>
<ellipse cx="1987.9" cy="565.9" rx="167.1" ry="157.1" transform="rotate(136.2 1987.9 565.9)" fill="none" stroke="rgb(120,120,220)" stroke-width="1.8"/>
<ellipse cx="1972.8" cy="621.7" rx="199.4" ry="147.0" transform="rotate(-67.4 1972.8 621.7)" fill="none" stroke="rgb(205,228,236)" stroke-width="1.8"/>
<ellipse cx="1867.5" cy="644.2" rx="156.2" ry="248.1" transform="rotate(101.8 1867.5 644.2)" fill="none" stroke="rgb(182,120,120)" stroke-width="1.8"/>
<ellipse cx="1774.2" cy="759.0" rx="108.7" ry="196.4" transform="rotate(57.0 1774.2 759.0)" fill="none" stroke="rgb(215,118,118)" stroke-width="1.8"/>
<ellipse cx="2010.2" cy="700.8" rx="192.6" ry="155.3" transform="rotate(-75.5 2010.2 700.8)" fill="none" stroke="rgb(205,205,205)" stroke-width="1.8"/>
<ellipse cx="1941.0" cy="697.3" rx="172.0" ry="131.7" transform="rotate(-116.9 1941.0 697.3)" fill="none" stroke="rgb(238,155,145)" stroke-width="1.8"/>
<circle cx="1883.1" cy="267.5" r="12.3" fill="rgba(160,32,240,0.5)" stroke="rgba(160,32,240,0.35)" stroke-width="1.4"/>
<circle cx="1758.4" cy="375.2" r="12.3" fill="rgba(160,32,240,0.5)" stroke="rgba(160,32,240,0.35)" stroke-width="1.4"/>
<circle cx="1673.1" cy="334.9" r="12.3" fill="rgba(160,32,240,0.5)" stroke="rgba(160,32,240,0.35)" stroke-width="1.4"/>
<circle cx="1726.0" cy="404.0" r="12.3" fill="rgba(160,32,240,0.5)" stroke="rgba(160,32,240,0.35)" stroke-width="1.4"/>
<circle cx="1750.3" cy="414.0" r="12.3" fill="rgba(160,32,240,0.5)" stroke="rgba(160,32,240,0.35)" stroke-width="1.4"/>
<circle cx="1605.5" cy="416.6" r="12.3" fill="rgba(160,32,240,0.5)" stroke="rgba(160,32,240,0.35)" stroke-width="1.4"/>
<circle cx="1665.5" cy="538.8" r="12.3" fill="rgba(160,32,240,0.5)" stroke="rgba(160,32,240,0.35)" stroke-width="1.4"/>
<circle cx="1695.4" cy="534.0" r="12.3" fill="rgba(160,32,240,0.5)" stroke="rgba(160,32,240,0.35)" stroke-width="1.4"/>
<circle cx="1734.0" cy="502.2" r="12.3" fill="rgba(160,32,240,0.5)" stroke="rgba(160,32,240,0.35)" stroke-width="1.4"/>
<circle cx="1629.6" cy="551.0" r="12.3" fill="rgba(160,32,240,0.5)" stroke="rgba(160,32,240,0.35)" stroke-width="1.4"/>
<circle cx="1643.8" cy="599.0" r="12.3" fill="rgba(160,32,240,0.5)" stroke="rgba(160,32,240,0.35)" stroke-width="1.4"/>
<circle cx="1869.0" cy="469.6" r="12.3" fill="rgba(160,32,240,0.5)" stroke="rgba(160,32,240,0.35)" stroke-width="1.4"/>
<circle cx="1892.5" cy="478.8" r="12.3" fill="rgba(160,32,240,0.5)" stroke="rgba(160,32,240,0.35)" stroke-width="1.4"/>
<circle cx="1849.7" cy="517.4" r="12.3" fill="rgba(160,32,240,0.5)" stroke="rgba(160,32,240,0.35)" stroke-width="1.4"/>
<circle cx="2094.3" cy="502.0" r="12.3" fill="rgba(160,32,240,0.5)" stroke="rgba(160,32,240,0.35)" stroke-width="1.4"/>
<circle cx="2012.0" cy="505.6" r="12.3" fill="rgba(160,32,240,0.5)" stroke="rgba(160,32,240,0.35)" stroke-width="1.4"/>
<circle cx="1990.3" cy="539.1" r="12.3" fill="rgba(160,32,240,0.5)" stroke="rgba(160,32,240,0.35)" stroke-width="1.4"/>
<circle cx="2067.6" cy="532.5" r="12.3" fill="rgba(160,32,240,0.5)" stroke="rgba(160,32,240,0.35)" stroke-width="1.4"/>
<circle cx="2108.8" cy="655.0" r="12.3" fill="rgba(160,32,240,0.5)" stroke="rgba(160,32,240,0.35)" stroke-width="1.4"/>
<circle cx="2081.2" cy="659.0" r="12.3" fill="rgba(160,32,240,0.5)" stroke="rgba(160,32,240,0.35)" stroke-width="1.4"/>
<circle cx="1795.3" cy="687.2" r="12.3" fill="rgba(160,32,240,0.5)" stroke="rgba(160,32,240,0.35)" stroke-width="1.4"/>
<circle cx="1884.1" cy="716.6" r="12.3" fill="rgba(160,32,240,0.5)" stroke="rgba(160,32,240,0.35)" stroke-width="1.4"/>
<circle cx="1961.9" cy="623.5" r="12.3" fill="rgba(160,32,240,0.5)" stroke="rgba(160,32,240,0.35)" stroke-width="1.4"/>
<circle cx="1738.5" cy="631.9" r="12.3" fill="rgba(255,0,0,0.47)" stroke="rgba(255,0,0,0.35)" stroke-width="1.4"/>
<circle cx="1585.1" cy="673.0" r="12.3" fill="rgba(255,0,0,0.47)" stroke="rgba(255,0,0,0.35)" stroke-width="1.4"/>
<circle cx="1671.5" cy="746.7" r="12.3" fill="rgba(255,0,0,0.47)" stroke="rgba(255,0,0,0.35)" stroke-width="1.4"/>
<circle cx="1580.1" cy="769.4" r="12.3" fill="rgba(255,0,0,0.47)" stroke="rgba(255,0,0,0.35)" stroke-width="1.4"/>
<circle cx="1934.6" cy="670.0" r="12.3" fill="rgba(255,0,0,0.47)" stroke="rgba(255,0,0,0.35)" stroke-width="1.4"/>
<circle cx="1860.6" cy="686.4" r="12.3" fill="rgba(255,0,0,0.47)" stroke="rgba(255,0,0,0.35)" stroke-width="1.4"/>
<circle cx="1936.4" cy="703.5" r="12.3" fill="rgba(255,0,0,0.47)" stroke="rgba(255,0,0,0.35)" stroke-width="1.4"/>
<circle cx="1773.5" cy="702.3" r="12.3" fill="rgba(255,0,0,0.47)" stroke="rgba(255,0,0,0.35)" stroke-width="1.4"/>
<circle cx="1772.6" cy="714.1" r="12.3" fill="rgba(255,0,0,0.47)" stroke="rgba(255,0,0,0.35)" stroke-width="1.4"/>
<circle cx="1803.6" cy="717.4" r="12.3" fill="rgba(255,0,0,0.47)" stroke="rgba(255,0,0,0.35)" stroke-width="1.4"/>
<circle cx="1828.8" cy="733.3" r="12.3" fill="rgba(255,0,0,0.47)" stroke="rgba(255,0,0,0.35)" stroke-width="1.4"/>
<circle cx="1771.5" cy="779.0" r="12.3" fill="rgba(255,0,0,0.47)" stroke="rgba(255,0,0,0.35)" stroke-width="1.4"/>
<circle cx="1837.2" cy="767.7" r="12.3" fill="rgba(255,0,0,0.47)" stroke="rgba(255,0,0,0.35)" stroke-width="1.4"/>
<circle cx="1982.8" cy="643.6" r="12.3" fill="rgba(255,0,0,0.47)" stroke="rgba(255,0,0,0.35)" stroke-width="1.4"/>
<circle cx="1591.9" cy="847.1" r="12.3" fill="rgba(255,0,0,0.47)" stroke="rgba(255,0,0,0.35)" stroke-width="1.4"/>
<circle cx="1660.6" cy="891.5" r="12.3" fill="rgba(255,0,0,0.47)" stroke="rgba(255,0,0,0.35)" stroke-width="1.4"/>
<circle cx="1685.7" cy="901.5" r="12.3" fill="rgba(255,0,0,0.47)" stroke="rgba(255,0,0,0.35)" stroke-width="1.4"/>
<circle cx="1653.0" cy="915.0" r="12.3" fill="rgba(255,0,0,0.47)" stroke="rgba(255,0,0,0.35)" stroke-width="1.4"/>
<circle cx="1760.5" cy="803.8" r="12.3" fill="rgba(255,0,0,0.47)" stroke="rgba(255,0,0,0.35)" stroke-width="1.4"/>
<circle cx="1746.0" cy="979.5" r="12.3" fill="rgba(255,0,0,0.47)" stroke="rgba(255,0,0,0.35)" stroke-width="1.4"/>
<circle cx="1835.5" cy="838.7" r="12.3" fill="rgba(255,0,0,0.47)" stroke="rgba(255,0,0,0.35)" stroke-width="1.4"/>
<circle cx="1781.9" cy="511.5" r="12.3" fill="rgba(255,99,71,0.5)" stroke="rgba(255,99,71,0.35)" stroke-width="1.4"/>
<circle cx="1896.0" cy="477.0" r="12.3" fill="rgba(255,99,71,0.5)" stroke="rgba(255,99,71,0.35)" stroke-width="1.4"/>
<circle cx="1898.4" cy="574.3" r="12.3" fill="rgba(255,99,71,0.5)" stroke="rgba(255,99,71,0.35)" stroke-width="1.4"/>
<circle cx="1947.0" cy="570.0" r="12.3" fill="rgba(255,99,71,0.5)" stroke="rgba(255,99,71,0.35)" stroke-width="1.4"/>
<circle cx="1874.1" cy="598.0" r="12.3" fill="rgba(255,99,71,0.5)" stroke="rgba(255,99,71,0.35)" stroke-width="1.4"/>
<circle cx="1970.0" cy="593.5" r="12.3" fill="rgba(255,99,71,0.5)" stroke="rgba(255,99,71,0.35)" stroke-width="1.4"/>
<circle cx="2017.0" cy="595.0" r="12.3" fill="rgba(255,99,71,0.5)" stroke="rgba(255,99,71,0.35)" stroke-width="1.4"/>
<circle cx="2086.3" cy="709.6" r="12.3" fill="rgba(255,99,71,0.5)" stroke="rgba(255,99,71,0.35)" stroke-width="1.4"/>
<circle cx="2064.0" cy="727.2" r="12.3" fill="rgba(255,99,71,0.5)" stroke="rgba(255,99,71,0.35)" stroke-width="1.4"/>
<circle cx="1812.0" cy="628.6" r="12.3" fill="rgba(255,99,71,0.5)" stroke="rgba(255,99,71,0.35)" stroke-width="1.4"/>
<circle cx="1905.9" cy="695.6" r="12.3" fill="rgba(255,99,71,0.5)" stroke="rgba(255,99,71,0.35)" stroke-width="1.4"/>
<circle cx="1917.6" cy="722.4" r="12.3" fill="rgba(255,99,71,0.5)" stroke="rgba(255,99,71,0.35)" stroke-width="1.4"/>
<circle cx="1812.0" cy="788.0" r="12.3" fill="rgba(255,99,71,0.5)" stroke="rgba(255,99,71,0.35)" stroke-width="1.4"/>
<circle cx="1990.4" cy="657.1" r="12.3" fill="rgba(255,99,71,0.5)" stroke="rgba(255,99,71,0.35)" stroke-width="1.4"/>
<circle cx="1958.5" cy="668.8" r="12.3" fill="rgba(255,99,71,0.5)" stroke="rgba(255,99,71,0.35)" stroke-width="1.4"/>
<circle cx="1955.0" cy="792.0" r="12.3" fill="rgba(255,99,71,0.5)" stroke="rgba(255,99,71,0.35)" stroke-width="1.4"/>
<circle cx="1845.6" cy="816.0" r="12.3" fill="rgba(255,99,71,0.5)" stroke="rgba(255,99,71,0.35)" stroke-width="1.4"/>
<circle cx="2075.8" cy="814.5" r="12.3" fill="rgba(255,99,71,0.5)" stroke="rgba(255,99,71,0.35)" stroke-width="1.4"/>
<circle cx="2029.0" cy="903.5" r="12.3" fill="rgba(255,99,71,0.5)" stroke="rgba(255,99,71,0.35)" stroke-width="1.4"/>
<circle cx="2017.1" cy="916.1" r="12.3" fill="rgba(255,99,71,0.5)" stroke="rgba(255,99,71,0.35)" stroke-width="1.4"/>
<circle cx="1774.8" cy="289.7" r="12.3" fill="rgba(255,215,0,0.5)" stroke="rgba(255,215,0,0.35)" stroke-width="1.4"/>
<circle cx="1331.5" cy="484.6" r="12.3" fill="rgba(255,215,0,0.5)" stroke="rgba(255,215,0,0.35)" stroke-width="1.4"/>
<circle cx="1699.5" cy="439.0" r="12.3" fill="rgba(255,215,0,0.5)" stroke="rgba(255,215,0,0.35)" stroke-width="1.4"/>
<circle cx="1562.5" cy="529.0" r="12.3" fill="rgba(255,215,0,0.5)" stroke="rgba(255,215,0,0.35)" stroke-width="1.4"/>
<circle cx="1612.6" cy="515.2" r="12.3" fill="rgba(255,215,0,0.5)" stroke="rgba(255,215,0,0.35)" stroke-width="1.4"/>
<circle cx="1723.3" cy="538.4" r="12.3" fill="rgba(255,215,0,0.5)" stroke="rgba(255,215,0,0.35)" stroke-width="1.4"/>
<circle cx="1625.0" cy="556.0" r="12.3" fill="rgba(255,215,0,0.5)" stroke="rgba(255,215,0,0.35)" stroke-width="1.4"/>
<circle cx="1619.5" cy="567.6" r="12.3" fill="rgba(255,215,0,0.5)" stroke="rgba(255,215,0,0.35)" stroke-width="1.4"/>
<circle cx="1602.0" cy="606.0" r="12.3" fill="rgba(255,215,0,0.5)" stroke="rgba(255,215,0,0.35)" stroke-width="1.4"/>
<circle cx="1900.0" cy="481.0" r="12.3" fill="rgba(255,215,0,0.5)" stroke="rgba(255,215,0,0.35)" stroke-width="1.4"/>
<circle cx="1922.7" cy="507.3" r="12.3" fill="rgba(255,215,0,0.5)" stroke="rgba(255,215,0,0.35)" stroke-width="1.4"/>
<circle cx="1823.8" cy="520.7" r="12.3" fill="rgba(255,215,0,0.5)" stroke="rgba(255,215,0,0.35)" stroke-width="1.4"/>
<circle cx="1800.3" cy="545.0" r="12.3" fill="rgba(255,215,0,0.5)" stroke="rgba(255,215,0,0.35)" stroke-width="1.4"/>
<circle cx="1835.5" cy="569.3" r="12.3" fill="rgba(255,215,0,0.5)" stroke="rgba(255,215,0,0.35)" stroke-width="1.4"/>
<circle cx="1627.0" cy="671.0" r="12.3" fill="rgba(255,215,0,0.5)" stroke="rgba(255,215,0,0.35)" stroke-width="1.4"/>
<circle cx="1655.6" cy="680.5" r="12.3" fill="rgba(255,215,0,0.5)" stroke="rgba(255,215,0,0.35)" stroke-width="1.4"/>
<circle cx="1704.2" cy="737.5" r="12.3" fill="rgba(255,215,0,0.5)" stroke="rgba(255,215,0,0.35)" stroke-width="1.4"/>
<circle cx="1792.7" cy="621.0" r="12.3" fill="rgba(255,215,0,0.5)" stroke="rgba(255,215,0,0.35)" stroke-width="1.4"/>
<circle cx="1788.6" cy="638.6" r="12.3" fill="rgba(255,215,0,0.5)" stroke="rgba(255,215,0,0.35)" stroke-width="1.4"/>
<circle cx="1795.0" cy="712.0" r="12.3" fill="rgba(255,215,0,0.5)" stroke="rgba(255,215,0,0.35)" stroke-width="1.4"/>
<circle cx="1867.4" cy="727.5" r="12.3" fill="rgba(255,215,0,0.5)" stroke="rgba(255,215,0,0.35)" stroke-width="1.4"/>
<circle cx="1773.5" cy="847.9" r="12.3" fill="rgba(255,215,0,0.5)" stroke="rgba(255,215,0,0.35)" stroke-width="1.4"/>
<circle cx="1904.6" cy="207.8" r="12.3" fill="rgba(105,205,25,0.5)" stroke="rgba(105,205,25,0.35)" stroke-width="1.4"/>
<circle cx="2005.8" cy="332.9" r="12.3" fill="rgba(105,205,25,0.5)" stroke="rgba(105,205,25,0.35)" stroke-width="1.4"/>
<circle cx="2059.2" cy="338.0" r="12.3" fill="rgba(105,205,25,0.5)" stroke="rgba(105,205,25,0.35)" stroke-width="1.4"/>
<circle cx="1922.3" cy="356.1" r="12.3" fill="rgba(105,205,25,0.5)" stroke="rgba(105,205,25,0.35)" stroke-width="1.4"/>
<circle cx="1767.6" cy="470.4" r="12.3" fill="rgba(105,205,25,0.5)" stroke="rgba(105,205,25,0.35)" stroke-width="1.4"/>
<circle cx="1837.2" cy="521.5" r="12.3" fill="rgba(105,205,25,0.5)" stroke="rgba(105,205,25,0.35)" stroke-width="1.4"/>
<circle cx="1859.8" cy="534.1" r="12.3" fill="rgba(105,205,25,0.5)" stroke="rgba(105,205,25,0.35)" stroke-width="1.4"/>
<circle cx="1929.4" cy="555.9" r="12.3" fill="rgba(105,205,25,0.5)" stroke="rgba(105,205,25,0.35)" stroke-width="1.4"/>
<circle cx="1849.0" cy="601.0" r="12.3" fill="rgba(105,205,25,0.5)" stroke="rgba(105,205,25,0.35)" stroke-width="1.4"/>
<circle cx="1992.0" cy="441.1" r="12.3" fill="rgba(105,205,25,0.5)" stroke="rgba(105,205,25,0.35)" stroke-width="1.4"/>
<circle cx="1971.9" cy="511.5" r="12.3" fill="rgba(105,205,25,0.5)" stroke="rgba(105,205,25,0.35)" stroke-width="1.4"/>
<circle cx="2022.1" cy="560.9" r="12.3" fill="rgba(105,205,25,0.5)" stroke="rgba(105,205,25,0.35)" stroke-width="1.4"/>
<circle cx="2095.0" cy="679.0" r="12.3" fill="rgba(105,205,25,0.5)" stroke="rgba(105,205,25,0.35)" stroke-width="1.4"/>
<circle cx="1617.0" cy="622.0" r="12.3" fill="rgba(105,205,25,0.5)" stroke="rgba(105,205,25,0.35)" stroke-width="1.4"/>
<circle cx="1892.5" cy="610.1" r="12.3" fill="rgba(105,205,25,0.5)" stroke="rgba(105,205,25,0.35)" stroke-width="1.4"/>
<circle cx="1911.0" cy="623.5" r="12.3" fill="rgba(105,205,25,0.5)" stroke="rgba(105,205,25,0.35)" stroke-width="1.4"/>
<circle cx="1812.9" cy="617.7" r="12.3" fill="rgba(105,205,25,0.5)" stroke="rgba(105,205,25,0.35)" stroke-width="1.4"/>
<circle cx="1862.3" cy="634.4" r="12.3" fill="rgba(105,205,25,0.5)" stroke="rgba(105,205,25,0.35)" stroke-width="1.4"/>
<circle cx="1904.2" cy="662.1" r="12.3" fill="rgba(105,205,25,0.5)" stroke="rgba(105,205,25,0.35)" stroke-width="1.4"/>
<circle cx="1951.0" cy="661.0" r="12.3" fill="rgba(105,205,25,0.5)" stroke="rgba(105,205,25,0.35)" stroke-width="1.4"/>
<circle cx="1781.9" cy="660.4" r="12.3" fill="rgba(105,205,25,0.5)" stroke="rgba(105,205,25,0.35)" stroke-width="1.4"/>
<circle cx="1980.3" cy="655.4" r="12.3" fill="rgba(105,205,25,0.5)" stroke="rgba(105,205,25,0.35)" stroke-width="1.4"/>
<circle cx="2006.3" cy="723.3" r="12.3" fill="rgba(105,205,25,0.5)" stroke="rgba(105,205,25,0.35)" stroke-width="1.4"/>
<circle cx="1971.1" cy="772.7" r="12.3" fill="rgba(105,205,25,0.5)" stroke="rgba(105,205,25,0.35)" stroke-width="1.4"/>
<circle cx="2063.2" cy="303.1" r="12.3" fill="rgba(173,216,230,0.5)" stroke="rgba(173,216,230,0.35)" stroke-width="1.4"/>
<circle cx="2167.8" cy="404.3" r="12.3" fill="rgba(173,216,230,0.5)" stroke="rgba(173,216,230,0.35)" stroke-width="1.4"/>
<circle cx="1949.5" cy="520.0" r="12.3" fill="rgba(173,216,230,0.5)" stroke="rgba(173,216,230,0.35)" stroke-width="1.4"/>
<circle cx="1897.5" cy="524.9" r="12.3" fill="rgba(173,216,230,0.5)" stroke="rgba(173,216,230,0.35)" stroke-width="1.4"/>
<circle cx="1791.9" cy="545.8" r="12.3" fill="rgba(173,216,230,0.5)" stroke="rgba(173,216,230,0.35)" stroke-width="1.4"/>
<circle cx="1877.4" cy="574.3" r="12.3" fill="rgba(173,216,230,0.5)" stroke="rgba(173,216,230,0.35)" stroke-width="1.4"/>
<circle cx="2121.0" cy="475.4" r="12.3" fill="rgba(173,216,230,0.5)" stroke="rgba(173,216,230,0.35)" stroke-width="1.4"/>
<circle cx="2040.6" cy="485.5" r="12.3" fill="rgba(173,216,230,0.5)" stroke="rgba(173,216,230,0.35)" stroke-width="1.4"/>
<circle cx="1966.8" cy="534.1" r="12.3" fill="rgba(173,216,230,0.5)" stroke="rgba(173,216,230,0.35)" stroke-width="1.4"/>
<circle cx="1990.3" cy="554.2" r="12.3" fill="rgba(173,216,230,0.5)" stroke="rgba(173,216,230,0.35)" stroke-width="1.4"/>
<circle cx="2003.7" cy="557.6" r="12.3" fill="rgba(173,216,230,0.5)" stroke="rgba(173,216,230,0.35)" stroke-width="1.4"/>
<circle cx="2050.9" cy="667.8" r="12.3" fill="rgba(173,216,230,0.5)" stroke="rgba(173,216,230,0.35)" stroke-width="1.4"/>
<circle cx="2076.5" cy="682.6" r="12.3" fill="rgba(173,216,230,0.5)" stroke="rgba(173,216,230,0.35)" stroke-width="1.4"/>
<circle cx="2106.5" cy="690.0" r="12.3" fill="rgba(173,216,230,0.5)" stroke="rgba(173,216,230,0.35)" stroke-width="1.4"/>
<circle cx="1889.1" cy="643.6" r="12.3" fill="rgba(173,216,230,0.5)" stroke="rgba(173,216,230,0.35)" stroke-width="1.4"/>
<circle cx="1880.8" cy="660.4" r="12.3" fill="rgba(173,216,230,0.5)" stroke="rgba(173,216,230,0.35)" stroke-width="1.4"/>
<circle cx="1797.0" cy="708.0" r="12.3" fill="rgba(173,216,230,0.5)" stroke="rgba(173,216,230,0.35)" stroke-width="1.4"/>
<circle cx="1917.6" cy="757.6" r="12.3" fill="rgba(173,216,230,0.5)" stroke="rgba(173,216,230,0.35)" stroke-width="1.4"/>
<circle cx="1824.0" cy="776.0" r="12.3" fill="rgba(173,216,230,0.5)" stroke="rgba(173,216,230,0.35)" stroke-width="1.4"/>
<circle cx="1987.0" cy="619.3" r="12.3" fill="rgba(173,216,230,0.5)" stroke="rgba(173,216,230,0.35)" stroke-width="1.4"/>
<circle cx="2121.1" cy="774.5" r="12.3" fill="rgba(173,216,230,0.5)" stroke="rgba(173,216,230,0.35)" stroke-width="1.4"/>
<circle cx="1865.7" cy="854.6" r="12.3" fill="rgba(173,216,230,0.5)" stroke="rgba(173,216,230,0.35)" stroke-width="1.4"/>
<circle cx="1954.2" cy="899.3" r="12.3" fill="rgba(173,216,230,0.5)" stroke="rgba(173,216,230,0.35)" stroke-width="1.4"/>
<circle cx="1844.5" cy="404.5" r="12.3" fill="rgba(0,0,255,0.45)" stroke="rgba(0,0,255,0.35)" stroke-width="1.4"/>
<circle cx="2114.5" cy="411.4" r="12.3" fill="rgba(0,0,255,0.45)" stroke="rgba(0,0,255,0.35)" stroke-width="1.4"/>
<circle cx="2122.5" cy="411.4" r="12.3" fill="rgba(0,0,255,0.45)" stroke="rgba(0,0,255,0.35)" stroke-width="1.4"/>
<circle cx="1781.0" cy="494.7" r="12.3" fill="rgba(0,0,255,0.45)" stroke="rgba(0,0,255,0.35)" stroke-width="1.4"/>
<circle cx="1900.9" cy="453.6" r="12.3" fill="rgba(0,0,255,0.45)" stroke="rgba(0,0,255,0.35)" stroke-width="1.4"/>
<circle cx="1937.8" cy="438.6" r="12.3" fill="rgba(0,0,255,0.45)" stroke="rgba(0,0,255,0.35)" stroke-width="1.4"/>
<circle cx="1937.0" cy="490.5" r="12.3" fill="rgba(0,0,255,0.45)" stroke="rgba(0,0,255,0.35)" stroke-width="1.4"/>
<circle cx="1918.5" cy="519.0" r="12.3" fill="rgba(0,0,255,0.45)" stroke="rgba(0,0,255,0.35)" stroke-width="1.4"/>
<circle cx="1934.4" cy="536.6" r="12.3" fill="rgba(0,0,255,0.45)" stroke="rgba(0,0,255,0.35)" stroke-width="1.4"/>
<circle cx="1897.5" cy="590.0" r="12.3" fill="rgba(0,0,255,0.45)" stroke="rgba(0,0,255,0.35)" stroke-width="1.4"/>
<circle cx="1926.0" cy="594.0" r="12.3" fill="rgba(0,0,255,0.45)" stroke="rgba(0,0,255,0.35)" stroke-width="1.4"/>
<circle cx="2119.4" cy="497.0" r="12.3" fill="rgba(0,0,255,0.45)" stroke="rgba(0,0,255,0.35)" stroke-width="1.4"/>
<circle cx="2022.1" cy="493.9" r="12.3" fill="rgba(0,0,255,0.45)" stroke="rgba(0,0,255,0.35)" stroke-width="1.4"/>
<circle cx="2005.4" cy="515.7" r="12.3" fill="rgba(0,0,255,0.45)" stroke="rgba(0,0,255,0.35)" stroke-width="1.4"/>
<circle cx="2013.8" cy="519.0" r="12.3" fill="rgba(0,0,255,0.45)" stroke="rgba(0,0,255,0.35)" stroke-width="1.4"/>
<circle cx="2028.9" cy="517.4" r="12.3" fill="rgba(0,0,255,0.45)" stroke="rgba(0,0,255,0.35)" stroke-width="1.4"/>
<circle cx="2010.4" cy="529.1" r="12.3" fill="rgba(0,0,255,0.45)" stroke="rgba(0,0,255,0.35)" stroke-width="1.4"/>
<circle cx="2036.0" cy="618.0" r="12.3" fill="rgba(0,0,255,0.45)" stroke="rgba(0,0,255,0.35)" stroke-width="1.4"/>
<circle cx="2095.8" cy="667.0" r="12.3" fill="rgba(0,0,255,0.45)" stroke="rgba(0,0,255,0.35)" stroke-width="1.4"/>
<circle cx="2137.0" cy="697.2" r="12.3" fill="rgba(0,0,255,0.45)" stroke="rgba(0,0,255,0.35)" stroke-width="1.4"/>
<circle cx="1941.1" cy="610.5" r="12.3" fill="rgba(0,0,255,0.45)" stroke="rgba(0,0,255,0.35)" stroke-width="1.4"/>
<circle cx="1829.6" cy="680.5" r="12.3" fill="rgba(0,0,255,0.45)" stroke="rgba(0,0,255,0.35)" stroke-width="1.4"/>
<circle cx="1935.8" cy="690.6" r="12.3" fill="rgba(0,0,255,0.45)" stroke="rgba(0,0,255,0.35)" stroke-width="1.4"/>
<circle cx="1942.0" cy="765.0" r="12.3" fill="rgba(0,0,255,0.45)" stroke="rgba(0,0,255,0.35)" stroke-width="1.4"/>
<circle cx="1987.0" cy="692.3" r="12.3" fill="rgba(0,0,255,0.45)" stroke="rgba(0,0,255,0.35)" stroke-width="1.4"/>
<circle cx="2016.3" cy="652.9" r="12.3" fill="rgba(0,0,255,0.45)" stroke="rgba(0,0,255,0.35)" stroke-width="1.4"/>
<circle cx="1979.0" cy="795.0" r="12.3" fill="rgba(0,0,255,0.45)" stroke="rgba(0,0,255,0.35)" stroke-width="1.4"/>
<circle cx="1583.4" cy="531.0" r="12.3" fill="rgba(165,42,42,0.5)" stroke="rgba(165,42,42,0.35)" stroke-width="1.4"/>
<circle cx="1686.5" cy="540.0" r="12.3" fill="rgba(165,42,42,0.5)" stroke="rgba(165,42,42,0.35)" stroke-width="1.4"/>
<circle cx="1745.2" cy="478.0" r="12.3" fill="rgba(165,42,42,0.5)" stroke="rgba(165,42,42,0.35)" stroke-width="1.4"/>
<circle cx="1745.0" cy="575.0" r="12.3" fill="rgba(165,42,42,0.5)" stroke="rgba(165,42,42,0.35)" stroke-width="1.4"/>
<circle cx="1857.3" cy="553.4" r="12.3" fill="rgba(165,42,42,0.5)" stroke="rgba(165,42,42,0.35)" stroke-width="1.4"/>
<circle cx="1874.1" cy="557.6" r="12.3" fill="rgba(165,42,42,0.5)" stroke="rgba(165,42,42,0.35)" stroke-width="1.4"/>
<circle cx="1867.4" cy="566.0" r="12.3" fill="rgba(165,42,42,0.5)" stroke="rgba(165,42,42,0.35)" stroke-width="1.4"/>
<circle cx="1847.2" cy="560.9" r="12.3" fill="rgba(165,42,42,0.5)" stroke="rgba(165,42,42,0.35)" stroke-width="1.4"/>
<circle cx="1832.1" cy="584.0" r="12.3" fill="rgba(165,42,42,0.5)" stroke="rgba(165,42,42,0.35)" stroke-width="1.4"/>
<circle cx="1940.0" cy="584.4" r="12.3" fill="rgba(165,42,42,0.5)" stroke="rgba(165,42,42,0.35)" stroke-width="1.4"/>
<circle cx="1903.5" cy="598.0" r="12.3" fill="rgba(165,42,42,0.5)" stroke="rgba(165,42,42,0.35)" stroke-width="1.4"/>
<circle cx="2085.0" cy="436.0" r="12.3" fill="rgba(165,42,42,0.5)" stroke="rgba(165,42,42,0.35)" stroke-width="1.4"/>
<circle cx="2052.0" cy="681.0" r="12.3" fill="rgba(165,42,42,0.5)" stroke="rgba(165,42,42,0.35)" stroke-width="1.4"/>
<circle cx="2066.3" cy="696.8" r="12.3" fill="rgba(165,42,42,0.5)" stroke="rgba(165,42,42,0.35)" stroke-width="1.4"/>
<circle cx="2114.2" cy="712.0" r="12.3" fill="rgba(165,42,42,0.5)" stroke="rgba(165,42,42,0.35)" stroke-width="1.4"/>
<circle cx="1684.1" cy="616.0" r="12.3" fill="rgba(165,42,42,0.5)" stroke="rgba(165,42,42,0.35)" stroke-width="1.4"/>
<circle cx="1632.0" cy="665.0" r="12.3" fill="rgba(165,42,42,0.5)" stroke="rgba(165,42,42,0.35)" stroke-width="1.4"/>
<circle cx="1743.6" cy="769.4" r="12.3" fill="rgba(165,42,42,0.5)" stroke="rgba(165,42,42,0.35)" stroke-width="1.4"/>
<circle cx="1757.8" cy="771.0" r="12.3" fill="rgba(165,42,42,0.5)" stroke="rgba(165,42,42,0.35)" stroke-width="1.4"/>
<circle cx="1917.6" cy="670.5" r="12.3" fill="rgba(165,42,42,0.5)" stroke="rgba(165,42,42,0.35)" stroke-width="1.4"/>
<circle cx="1795.3" cy="677.2" r="12.3" fill="rgba(165,42,42,0.5)" stroke="rgba(165,42,42,0.35)" stroke-width="1.4"/>
<circle cx="1765.1" cy="764.4" r="12.3" fill="rgba(165,42,42,0.5)" stroke="rgba(165,42,42,0.35)" stroke-width="1.4"/>
<circle cx="1966.0" cy="647.0" r="12.3" fill="rgba(165,42,42,0.5)" stroke="rgba(165,42,42,0.35)" stroke-width="1.4"/>
<circle cx="1689.1" cy="859.6" r="12.3" fill="rgba(165,42,42,0.5)" stroke="rgba(165,42,42,0.35)" stroke-width="1.4"/>
<circle cx="1792.7" cy="806.8" r="12.3" fill="rgba(165,42,42,0.5)" stroke="rgba(165,42,42,0.35)" stroke-width="1.4"/>
<circle cx="2138.6" cy="809.2" r="12.3" fill="rgba(165,42,42,0.5)" stroke="rgba(165,42,42,0.35)" stroke-width="1.4"/>
<circle cx="2210.9" cy="796.7" r="12.3" fill="rgba(165,42,42,0.5)" stroke="rgba(165,42,42,0.35)" stroke-width="1.4"/>
<circle cx="2025.0" cy="404.5" r="12.3" fill="rgba(190,190,190,0.5)" stroke="rgba(190,190,190,0.35)" stroke-width="1.4"/>
<circle cx="1956.8" cy="495.6" r="12.3" fill="rgba(190,190,190,0.5)" stroke="rgba(190,190,190,0.35)" stroke-width="1.4"/>
<circle cx="2065.0" cy="562.0" r="12.3" fill="rgba(190,190,190,0.5)" stroke="rgba(190,190,190,0.35)" stroke-width="1.4"/>
<circle cx="2047.0" cy="593.5" r="12.3" fill="rgba(190,190,190,0.5)" stroke="rgba(190,190,190,0.35)" stroke-width="1.4"/>
<circle cx="2012.0" cy="600.0" r="12.3" fill="rgba(190,190,190,0.5)" stroke="rgba(190,190,190,0.35)" stroke-width="1.4"/>
<circle cx="2165.3" cy="610.0" r="12.3" fill="rgba(190,190,190,0.5)" stroke="rgba(190,190,190,0.35)" stroke-width="1.4"/>
<circle cx="2186.0" cy="619.8" r="12.3" fill="rgba(190,190,190,0.5)" stroke="rgba(190,190,190,0.35)" stroke-width="1.4"/>
<circle cx="2105.0" cy="638.5" r="12.3" fill="rgba(190,190,190,0.5)" stroke="rgba(190,190,190,0.35)" stroke-width="1.4"/>
<circle cx="2145.7" cy="660.1" r="12.3" fill="rgba(190,190,190,0.5)" stroke="rgba(190,190,190,0.35)" stroke-width="1.4"/>
<circle cx="2064.9" cy="662.2" r="12.3" fill="rgba(190,190,190,0.5)" stroke="rgba(190,190,190,0.35)" stroke-width="1.4"/>
<circle cx="2038.0" cy="691.0" r="12.3" fill="rgba(190,190,190,0.5)" stroke="rgba(190,190,190,0.35)" stroke-width="1.4"/>
<circle cx="1843.9" cy="636.9" r="12.3" fill="rgba(190,190,190,0.5)" stroke="rgba(190,190,190,0.35)" stroke-width="1.4"/>
<circle cx="1842.2" cy="693.9" r="12.3" fill="rgba(190,190,190,0.5)" stroke="rgba(190,190,190,0.35)" stroke-width="1.4"/>
<circle cx="1859.0" cy="707.4" r="12.3" fill="rgba(190,190,190,0.5)" stroke="rgba(190,190,190,0.35)" stroke-width="1.4"/>
<circle cx="1860.6" cy="774.0" r="12.3" fill="rgba(190,190,190,0.5)" stroke="rgba(190,190,190,0.35)" stroke-width="1.4"/>
<circle cx="1879.0" cy="783.0" r="12.3" fill="rgba(190,190,190,0.5)" stroke="rgba(190,190,190,0.35)" stroke-width="1.4"/>
<circle cx="2038.0" cy="629.0" r="12.3" fill="rgba(190,190,190,0.5)" stroke="rgba(190,190,190,0.35)" stroke-width="1.4"/>
<circle cx="2012.1" cy="694.0" r="12.3" fill="rgba(190,190,190,0.5)" stroke="rgba(190,190,190,0.35)" stroke-width="1.4"/>
<circle cx="1959.3" cy="697.3" r="12.3" fill="rgba(190,190,190,0.5)" stroke="rgba(190,190,190,0.35)" stroke-width="1.4"/>
<circle cx="2030.8" cy="771.5" r="12.3" fill="rgba(190,190,190,0.5)" stroke="rgba(190,190,190,0.35)" stroke-width="1.4"/>
<circle cx="2127.0" cy="787.0" r="12.3" fill="rgba(190,190,190,0.5)" stroke="rgba(190,190,190,0.35)" stroke-width="1.4"/>
<circle cx="1847.2" cy="791.7" r="12.3" fill="rgba(190,190,190,0.5)" stroke="rgba(190,190,190,0.35)" stroke-width="1.4"/>
<circle cx="1907.6" cy="846.2" r="12.3" fill="rgba(190,190,190,0.5)" stroke="rgba(190,190,190,0.35)" stroke-width="1.4"/>
<circle cx="2068.8" cy="922.4" r="12.3" fill="rgba(190,190,190,0.5)" stroke="rgba(190,190,190,0.35)" stroke-width="1.4"/>
<circle cx="2059.0" cy="970.1" r="12.3" fill="rgba(190,190,190,0.5)" stroke="rgba(190,190,190,0.35)" stroke-width="1.4"/>
<circle cx="2101.3" cy="880.5" r="12.3" fill="rgba(190,190,190,0.5)" stroke="rgba(190,190,190,0.35)" stroke-width="1.4"/>
<rect x="2197" y="54" width="204" height="465.5" fill="#fff" fill-opacity="0.35" stroke="#6f6f6f" stroke-width="1.8"/>
<circle cx="2233" cy="100.7" r="12.3" fill="rgba(160,32,240,0.5)" stroke="rgba(160,32,240,0.35)" stroke-width="1.4"/>
<text x="2270" y="108.0" font-size="20" fill="#222" textLength="45" lengthAdjust="spacingAndGlyphs">FM08</text>
<circle cx="2233" cy="147.3" r="12.3" fill="rgba(255,0,0,0.47)" stroke="rgba(255,0,0,0.35)" stroke-width="1.4"/>
<text x="2270" y="154.6" font-size="20" fill="#222" textLength="43" lengthAdjust="spacingAndGlyphs">GL09</text>
<circle cx="2233" cy="193.9" r="12.3" fill="rgba(255,99,71,0.5)" stroke="rgba(255,99,71,0.35)" stroke-width="1.4"/>
<text x="2270" y="201.2" font-size="20" fill="#222" textLength="36" lengthAdjust="spacingAndGlyphs">ID09</text>
<circle cx="2233" cy="240.5" r="12.3" fill="rgba(255,215,0,0.5)" stroke="rgba(255,215,0,0.35)" stroke-width="1.4"/>
<text x="2270" y="247.8" font-size="20" fill="#222" textLength="46" lengthAdjust="spacingAndGlyphs">MH09</text>
<circle cx="2233" cy="287.1" r="12.3" fill="rgba(105,205,25,0.5)" stroke="rgba(105,205,25,0.35)" stroke-width="1.4"/>
<text x="2270" y="294.4" font-size="20" fill="#222" textLength="46" lengthAdjust="spacingAndGlyphs">PG07</text>
<circle cx="2233" cy="333.7" r="12.3" fill="rgba(173,216,230,0.5)" stroke="rgba(173,216,230,0.35)" stroke-width="1.4"/>
<text x="2270" y="341.0" font-size="20" fill="#222" textLength="46" lengthAdjust="spacingAndGlyphs">PG09</text>
<circle cx="2233" cy="380.3" r="12.3" fill="rgba(0,0,255,0.45)" stroke="rgba(0,0,255,0.35)" stroke-width="1.4"/>
<text x="2270" y="387.6" font-size="20" fill="#222" textLength="45" lengthAdjust="spacingAndGlyphs">PG11</text>
<circle cx="2233" cy="426.9" r="12.3" fill="rgba(165,42,42,0.5)" stroke="rgba(165,42,42,0.35)" stroke-width="1.4"/>
<text x="2270" y="434.2" font-size="20" fill="#222" textLength="46" lengthAdjust="spacingAndGlyphs">PG12</text>
<circle cx="2233" cy="473.5" r="12.3" fill="rgba(190,190,190,0.5)" stroke="rgba(190,190,190,0.35)" stroke-width="1.4"/>
<text x="2270" y="480.8" font-size="20" fill="#222" textLength="47" lengthAdjust="spacingAndGlyphs">PW08</text>
<rect x="2082" y="838.5" width="293" height="271.5" fill="#fff" fill-opacity="0.93" stroke="#8a8a8a" stroke-width="2.4" rx="3"/>
<rect x="2092.5" y="863.5" width="29.0" height="246.0" fill="#8c8c8c" stroke="#333" stroke-width="1.4" rx="1"/>
<rect x="2127.5" y="931" width="29.0" height="178.5" fill="#8c8c8c" stroke="#333" stroke-width="1.4" rx="1"/>
<rect x="2162" y="953.5" width="29.5" height="156.0" fill="#dedede" stroke="#333" stroke-width="1.4" rx="1"/>
<rect x="2196.5" y="1011" width="29.5" height="98.5" fill="#dedede" stroke="#333" stroke-width="1.4" rx="1"/>
<rect x="2231" y="1014.5" width="29.5" height="95.0" fill="#dedede" stroke="#333" stroke-width="1.4" rx="1"/>
<rect x="2265.5" y="1039.5" width="29.5" height="70.0" fill="#dedede" stroke="#333" stroke-width="1.4" rx="1"/>
<rect x="2300" y="1050" width="30" height="59.5" fill="#dedede" stroke="#333" stroke-width="1.4" rx="1"/>
<rect x="2335" y="1081" width="29.5" height="28.5" fill="#dedede" stroke="#333" stroke-width="1.4" rx="1"/>
<circle cx="2101.3" cy="880.5" r="12.3" fill="rgba(0,0,0,0.06)"/>
<text x="2211" y="861.8" font-size="19" fill="#111" textLength="131" lengthAdjust="spacingAndGlyphs">DA eigenvalues</text>
<text transform="translate(538.5,1187) scale(0.875,1)" font-size="46" fill="#000">PC1</text>
<text transform="translate(1791.5,1191) scale(0.895,1)" font-size="46" fill="#000">PC1</text>
<text transform="translate(1190.5,650) rotate(-90) scale(0.93,1)" font-size="47" fill="#000">PC2</text>
<text transform="translate(2496.5,637.5) rotate(-90) scale(0.925,1)" font-size="47" fill="#000">PC2</text>
</svg>
</body></html>
